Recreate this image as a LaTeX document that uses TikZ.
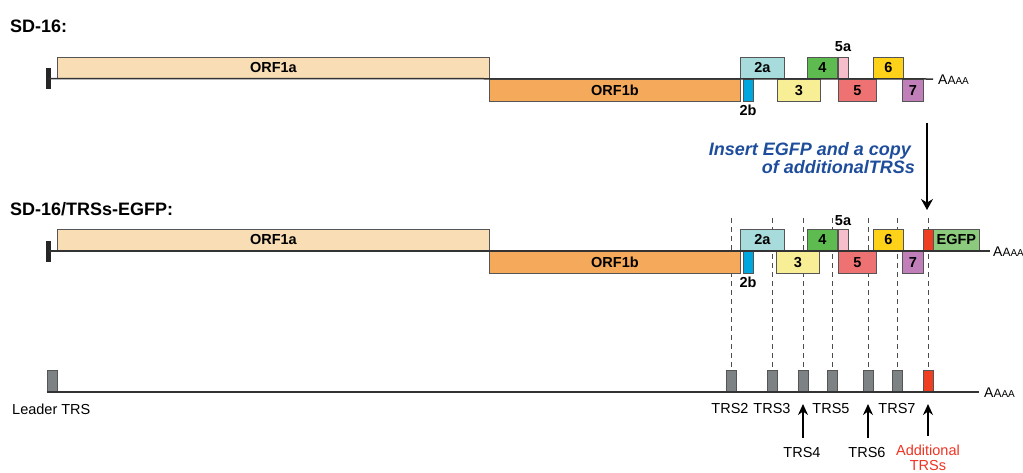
\documentclass[tikz,border=0pt]{standalone}
\usepackage{fontspec}
\setmainfont{Liberation Sans}
\usetikzlibrary{arrows.meta}
\definecolor{orfa}{HTML}{F9DDB5}
\definecolor{orfb}{HTML}{F5A95A}
\definecolor{ctwoa}{HTML}{A8DCDC}
\definecolor{ctwob}{HTML}{00A6DE}
\definecolor{cthree}{HTML}{F8EE95}
\definecolor{cfour}{HTML}{5DBB4F}
\definecolor{cfivea}{HTML}{F6BDCB}
\definecolor{cfive}{HTML}{EE7272}
\definecolor{csix}{HTML}{FFD21A}
\definecolor{cseven}{HTML}{C17FBA}
\definecolor{cred}{HTML}{EE3F23}
\definecolor{cegfp}{HTML}{8CCB7E}
\definecolor{trsgray}{HTML}{7D8285}
\definecolor{boxline}{HTML}{555555}
\definecolor{insblue}{HTML}{1E4D9B}
\definecolor{addred}{HTML}{EE3322}
\newcommand{\polyA}{{\fontsize{14}{14}\selectfont A}{\fontsize{12}{12}\selectfont A}{\fontsize{10}{10}\selectfont AA}}
\begin{document}
\begin{tikzpicture}[x=1pt,y=-1pt,
  gbox/.style={draw=boxline, line width=0.8pt, minimum height=21.5pt, inner sep=0pt,
    font=\fontsize{14.5}{14.5}\selectfont\bfseries},
  up/.style={gbox, anchor=south west},
  down/.style={gbox, anchor=north west},
  leftbar/.style={fill=black!85, draw=none, minimum width=5pt, minimum height=21pt, inner sep=0pt},
  trsbox/.style={fill=trsgray, draw=boxline, line width=0.6pt, minimum width=10pt, minimum height=21pt, inner sep=0pt, anchor=south},
  mainline/.style={draw=black!80, line width=1.5pt},
  title/.style={font=\fontsize{18}{18}\selectfont\bfseries, anchor=base west, inner sep=0pt},
  small/.style={font=\fontsize{14.5}{14.5}\selectfont\bfseries, inner sep=0pt},
  lab/.style={font=\fontsize{14.5}{15}\selectfont, inner sep=1pt},
  polyA/.style={anchor=base west, inner sep=0pt},
  dashv/.style={draw=black!70, line width=0.8pt, dash pattern=on 5pt off 4pt},
  uparrow/.style={draw=black, line width=1.4pt, -{Stealth[length=11pt,width=10pt]}},
  bigarrow/.style={draw=black, line width=1.3pt, -{Stealth[length=11pt,width=12pt]}},
  instext/.style={font=\fontsize{18}{18}\selectfont\bfseries\itshape, text=insblue, anchor=base east, inner sep=0pt}
]
\useasboundingbox (0,0) rectangle (1023,472);

% ---------- Gene 1 : SD-16 ----------
\node[title] (t1) at (10,32) {SD-16:};
\node[up, fill=orfa, minimum width=432pt] (a1) at (57,79) {ORF1a};
\node[down, fill=orfb, minimum width=251pt] (b1) at (489,79) {ORF1b};
\node[up, fill=ctwoa, minimum width=44pt] (g2a1) at (740,79) {2a};
\node[down, fill=ctwob, minimum width=10pt] (g2b1) at (743,79) {};
\node[down, fill=cthree, minimum width=43pt] (g31) at (777,79) {3};
\node[up, fill=cfour, minimum width=30pt] (g41) at (807,79) {4};
\node[up, fill=cfivea, minimum width=10pt] (g5a1) at (838,79) {};
\node[down, fill=cfive, minimum width=38pt] (g51) at (838,79) {5};
\node[up, fill=csix, minimum width=30pt] (g61) at (873,79) {6};
\node[down, fill=cseven, minimum width=21pt] (g71) at (902,79) {7};
\node[small] (l2b1) at (748,110) {2b};
\node[small] (l5a1) at (843,47) {5a};
\node[leftbar] (bar1) at (48.5,78.5) {};
\coordinate (e1) at (933,79);
\draw[mainline] (bar1.center) -- (e1);
\node[polyA] (p1) at (938,84) {\polyA};

% ---------- insertion arrow ----------
\node[instext] (ins1) at (911,155) {Insert EGFP and a copy};
\node[instext] (ins2) at (915,173) {of additionalTRSs};
\coordinate (arrtop) at (927,123);
\coordinate (arrtip) at (927,210);
\draw[bigarrow] (arrtop) -- (arrtip);

% ---------- TRS row ----------
\node[trsbox, anchor=south west] (lead) at (47,392) {};
\node[trsbox] (trs2) at (731,392) {};
\node[trsbox] (trs3) at (772,392) {};
\node[trsbox] (trs4) at (803,392) {};
\node[trsbox] (trs5) at (832,392) {};
\node[trsbox] (trs6) at (868,392) {};
\node[trsbox] (trs7) at (897,392) {};
\node[trsbox, fill=cred] (trsadd) at (928,392) {};
\coordinate (e3) at (979,392);
\draw[mainline] (lead.south west) -- (e3);
\node[polyA] (p3) at (984,397) {\polyA};

% dashed guides
\foreach \n/\x in {trs2/731,trs3/772,trs4/803,trs5/832,trs6/868,trs7/897,trsadd/928}{
  \coordinate (d\n) at (\x,218);
  \draw[dashv] (d\n) -- (\n.north);
}

% TRS labels
\node[lab, anchor=base west, inner sep=0pt] (llead) at (12,414) {Leader TRS};
\node[lab, anchor=base] (l2) at (730,413) {TRS2};
\node[lab, anchor=base] (l3) at (772,413) {TRS3};
\node[lab, anchor=base] (l5) at (831,413) {TRS5};
\node[lab, anchor=base] (l7) at (897,413) {TRS7};
\node[lab, anchor=base] (l4) at (802,457) {TRS4};
\node[lab, anchor=base] (l6) at (867,457) {TRS6};
\node[lab, anchor=base, text=addred, align=center] (ladd) at (928,470.5) {Additional\\TRSs};
\draw[uparrow, shorten <=8pt, shorten >=12pt] (l4.north -| trs4.south) -- (trs4.south);
\draw[uparrow, shorten <=8pt, shorten >=12pt] (l6.north -| trs6.south) -- (trs6.south);
\draw[uparrow, shorten <=8pt, shorten >=12pt] (ladd.north -| trsadd.south) -- (trsadd.south);

% ---------- Gene 2 : SD-16/TRSs-EGFP ----------
\node[title] (t2) at (10,215) {SD-16/TRSs-EGFP:};
\node[up, fill=orfa, minimum width=432pt] (a2) at (57,251) {ORF1a};
\node[down, fill=orfb, minimum width=251pt] (b2) at (489,251) {ORF1b};
\node[up, fill=ctwoa, minimum width=44pt] (g2a2) at (740,251) {2a};
\node[down, fill=ctwob, minimum width=10pt] (g2b2) at (743,251) {};
\node[down, fill=cthree, minimum width=43pt] (g32) at (776,251) {3};
\node[up, fill=cfour, minimum width=30pt] (g42) at (807,251) {4};
\node[up, fill=cfivea, minimum width=10pt] (g5a2) at (838,251) {};
\node[down, fill=cfive, minimum width=38pt] (g52) at (838,251) {5};
\node[up, fill=csix, minimum width=30pt] (g62) at (873,251) {6};
\node[down, fill=cseven, minimum width=21pt] (g72) at (902,251) {7};
\node[up, fill=cred, minimum width=10pt] (gred) at (923,251) {};
\node[up, fill=cegfp, minimum width=46pt] (gegfp) at (933,251) {EGFP};
\node[small] (l2b2) at (748,282) {2b};
\node[small] (l5a2) at (843,221) {5a};
\node[leftbar] (bar2) at (48.5,251) {};
\coordinate (e2) at (990,251);
\draw[mainline] (bar2.center) -- (e2);
\node[polyA] (p2) at (993,256) {\polyA};
\end{tikzpicture}
\end{document}
